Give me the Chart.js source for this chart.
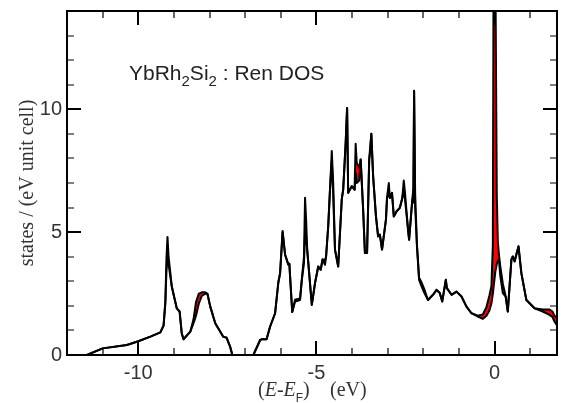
<!DOCTYPE html>
<html>
<head>
<meta charset="utf-8">
<script src="https://cdn.jsdelivr.net/npm/chart.js@4.4.0/dist/chart.umd.min.js"></script>
<style>
  html, body { margin: 0; padding: 0; background: #fff; }
</style>
</head>
<body>
<canvas id="dosChart" width="566" height="403"></canvas>
<script>
//----------------------
// Data
//----------------------

// energy relative to E_F (eV)
const energy = [
  -11.44, -11.0, -10.32, -10.0, -9.66, -9.38, -9.29, -9.24, -9.21, -9.18,
  -9.15, -9.06, -8.92, -8.84, -8.78, -8.73, -8.54, -8.45, -8.38, -8.30,
  -8.22, -8.12, -8.06, -7.98, -7.84, -7.62, -7.52, -7.42, -7.36, -6.77,
  -6.58, -6.54, -6.40, -6.30, -6.16, -6.07, -6.02, -5.95, -5.88, -5.79,
  -5.76, -5.74, -5.68, -5.60, -5.46, -5.41, -5.35, -5.32, -5.29, -5.26,
  -5.13, -5.04, -4.95, -4.88, -4.83, -4.76, -4.73, -4.67, -4.62, -4.57,
  -4.53, -4.48, -4.39, -4.29, -4.25, -4.18, -4.14, -4.11, -4.01, -3.93,
  -3.90, -3.87, -3.80, -3.76, -3.69, -3.64, -3.58, -3.52, -3.49, -3.46,
  -3.41, -3.33, -3.27, -3.22, -3.16, -3.05, -3.02, -2.97, -2.94, -2.88,
  -2.83, -2.75, -2.66, -2.59, -2.55, -2.52, -2.43, -2.40, -2.31, -2.28,
  -2.26, -2.23, -2.18, -2.12, -2.05, -1.98, -1.87, -1.73, -1.63, -1.54,
  -1.47, -1.37, -1.34, -1.21, -1.07, -0.93, -0.79, -0.65, -0.47, -0.33,
  -0.23, -0.15, -0.09, -0.05, -0.03, 0.02, 0.06, 0.09, 0.12, 0.16,
  0.23, 0.31, 0.37, 0.47, 0.51, 0.56, 0.62, 0.67, 0.75, 0.89,
  1.12, 1.35, 1.54, 1.62, 1.68, 1.75
];

// lower black curve
const dosLower = [
  0, 0.27, 0.41, 0.56, 0.75, 0.92, 1.2, 2.1, 3.4, 4.0,
  3.7, 2.79, 1.9, 1.77, 0.88, 0.64, 0.95, 1.3, 1.6, 2.1,
  2.4, 2.5, 2.49, 1.97, 1.29, 0.75, 0.7, 0.33, 0, 0,
  0.61, 0.64, 0.64, 1.16, 1.7, 2.95, 3.33, 5.0, 4.08, 3.67,
  3.71, 3.2, 1.75, 2.18, 2.24, 3.06, 3.74, 5.0, 4.8, 4.29,
  2.04, 2.93, 3.6, 3.47, 3.88, 3.67, 4.01, 5.24, 6.73, 7.9,
  6.5, 4.29, 3.6, 6.33, 6.73, 8.64, 10.05, 6.6, 6.87, 6.73,
  7.4, 7.0, 7.1, 7.96, 5.92, 4.15, 4.15, 7.96, 8.3, 9.0,
  7.28, 5.64, 4.83, 4.9, 4.29, 5.51, 6.39, 6.6, 6.39, 6.6,
  5.64, 5.85, 5.99, 6.39, 6.8, 6.4, 5.1, 4.69, 6.33, 6.2,
  10.75, 6.0, 4.42, 3.06, 2.79, 2.55, 2.24, 2.45, 2.65, 2.52,
  2.18, 3.06, 2.72, 2.45, 2.58, 2.38, 1.97, 1.7, 1.56, 1.47,
  1.6, 1.8, 2.1, 2.5, 2.75, 3.4, 3.7, 3.85, 3.88, 3.2,
  2.52, 2.38, 1.77, 3.88, 4.01, 3.81, 4.15, 4.42, 3.33, 2.24,
  1.9, 1.77, 1.63, 1.55, 1.36, 1.2
];

// upper black curve (red band between the two)
const dosUpper = [
  0, 0.27, 0.41, 0.56, 0.75, 0.92, 1.2, 2.2, 3.9, 4.8,
  4.0, 2.79, 1.9, 1.77, 0.88, 0.64, 0.95, 1.45, 2.15, 2.5,
  2.55, 2.55, 2.49, 1.97, 1.29, 0.75, 0.7, 0.33, 0, 0,
  0.61, 0.64, 0.64, 1.16, 1.7, 2.95, 3.33, 5.05, 4.08, 3.7,
  3.71, 3.2, 1.75, 2.25, 2.3, 3.1, 4.0, 6.4, 5.5, 4.29,
  2.04, 2.93, 3.6, 3.47, 3.9, 3.85, 4.01, 5.24, 6.73, 8.3,
  7.0, 4.29, 3.6, 6.33, 6.73, 8.64, 10.05, 6.6, 6.87, 6.73,
  8.6, 7.82, 7.62, 7.96, 5.92, 4.15, 4.15, 7.96, 8.5, 9.0,
  7.28, 5.64, 4.83, 4.9, 4.29, 5.51, 6.39, 7.0, 6.39, 6.6,
  5.64, 5.85, 5.99, 6.39, 7.1, 6.67, 5.1, 4.69, 6.33, 6.8,
  10.75, 6.5, 4.5, 3.15, 2.95, 2.7, 2.24, 2.45, 2.65, 2.52,
  2.18, 3.06, 2.72, 2.45, 2.58, 2.38, 1.97, 1.7, 1.6, 1.65,
  1.95, 2.4, 2.8, 4.5, 16, 16, 6.5, 4.6, 4.1, 3.6,
  2.9, 2.38, 1.77, 3.88, 4.01, 3.81, 4.15, 4.42, 3.33, 2.24,
  1.9, 1.85, 1.85, 1.77, 1.6, 1.5
];

const xTicks = [-10, -5, 0];
const yTicks = [0, 5, 10];

const serif = '"Liberation Serif", "Times New Roman", serif';
const sans = '"Liberation Sans", Arial, sans-serif';

//----------------------
// Frame, inward ticks and text
//----------------------

const framePlugin = {
  id: 'frame',
  afterDraw(chart) {
    const { ctx, chartArea: a, scales: { x, y } } = chart;
    ctx.save();
    ctx.strokeStyle = '#000';

    // minor ticks every 1 unit, major ones longer
    for (let v = Math.ceil(x.min); v <= x.max; v++) {
      if (v === x.min || v === x.max) continue;
      const px = Math.round(x.getPixelForValue(v));
      const major = xTicks.includes(v);
      const len = major ? 14 : 7;
      ctx.lineWidth = major ? 2 : 1.2;
      ctx.beginPath();
      ctx.moveTo(px, a.bottom); ctx.lineTo(px, a.bottom - len);
      ctx.moveTo(px, a.top); ctx.lineTo(px, a.top + len);
      ctx.stroke();
    }
    for (let v = Math.ceil(y.min); v <= y.max; v++) {
      if (v === y.min || v === y.max) continue;
      const py = Math.round(y.getPixelForValue(v));
      const major = yTicks.includes(v);
      const len = major ? 14 : 7;
      ctx.lineWidth = major ? 2 : 1.2;
      ctx.beginPath();
      ctx.moveTo(a.left, py); ctx.lineTo(a.left + len, py);
      ctx.moveTo(a.right, py); ctx.lineTo(a.right - len, py);
      ctx.stroke();
    }

    ctx.lineWidth = 2;
    ctx.strokeRect(a.left, a.top, a.right - a.left, a.bottom - a.top);

    // compound label
    ctx.fillStyle = '#222';
    ctx.textBaseline = 'alphabetic';
    let cx = 129;
    const base = 80;
    const parts = [['YbRh', 0], ['2', 1], ['Si', 0], ['2', 1], [' : Ren DOS', 0]];
    parts.forEach(([t, sub]) => {
      ctx.font = sub ? '15px ' + sans : '21px ' + sans;
      ctx.fillText(t, cx, sub ? base + 6 : base);
      cx += ctx.measureText(t).width;
    });

    // x title: (E-E_F)   (eV)
    ctx.fillStyle = '#333';
    cx = 258;
    const xb = 396;
    const xparts = [
      ['(', '20px ' + serif, 0],
      ['E', 'italic 20px ' + serif, 0],
      ['-', '20px ' + serif, 0],
      ['E', 'italic 20px ' + serif, 0],
      ['F', '12px ' + sans, 6],
      [')', '20px ' + serif, 0]
    ];
    xparts.forEach(([t, f, dy]) => {
      ctx.font = f;
      ctx.fillText(t, cx, xb + dy);
      cx += ctx.measureText(t).width;
    });
    ctx.font = '20px ' + serif;
    ctx.fillText('(eV)', Math.max(cx + 8, 330), xb);

    // y title
    ctx.translate(33, 183);
    ctx.rotate(-Math.PI / 2);
    ctx.font = '20px ' + serif;
    ctx.textAlign = 'center';
    ctx.fillText('states / (eV unit cell)', 0, 0);
    ctx.restore();
  }
};

//----------------------
// Chart
//----------------------

function noPad(scale) {
  scale.paddingTop = 0;
  scale.paddingBottom = 0;
  scale.paddingLeft = 0;
  scale.paddingRight = 0;
}

const ctx = document.getElementById('dosChart').getContext('2d');
const chart = new Chart(ctx, {
  type: 'line',
  data: {
    datasets: [
      {
        label: 'lower',
        data: energy.map((e, i) => ({ x: e, y: dosLower[i] })),
        borderColor: '#000',
        borderWidth: 2,
        borderJoinStyle: 'round',
        pointRadius: 0,
        fill: false
      },
      {
        label: 'upper',
        data: energy.map((e, i) => ({ x: e, y: dosUpper[i] })),
        borderColor: '#000',
        borderWidth: 2,
        borderJoinStyle: 'round',
        pointRadius: 0,
        backgroundColor: '#ff0000',
        fill: '-1'
      }
    ]
  },
  options: {
    responsive: false,
    animation: false,
    layout: { padding: { top: 11, right: 9, left: 0, bottom: 0 } },
    plugins: {
      legend: { display: false },
      tooltip: { enabled: false }
    },
    scales: {
      x: {
        type: 'linear',
        min: -12,
        max: 1.75,
        grid: { display: false, drawTicks: false },
        border: { display: false },
        afterBuildTicks: scale => { scale.ticks = xTicks.map(v => ({ value: v })); },
        afterFit: scale => { scale.height = 48; noPad(scale); },
        ticks: {
          padding: 6,
          color: '#333',
          font: { family: sans, size: 20 }
        }
      },
      y: {
        min: 0,
        max: 14,
        grid: { display: false, drawTicks: false },
        border: { display: false },
        afterBuildTicks: scale => { scale.ticks = yTicks.map(v => ({ value: v })); },
        afterFit: scale => { scale.width = 67; noPad(scale); },
        ticks: {
          padding: 5,
          color: '#333',
          font: { family: sans, size: 20 }
        }
      }
    }
  },
  plugins: [framePlugin]
});
</script>
</body>
</html>
